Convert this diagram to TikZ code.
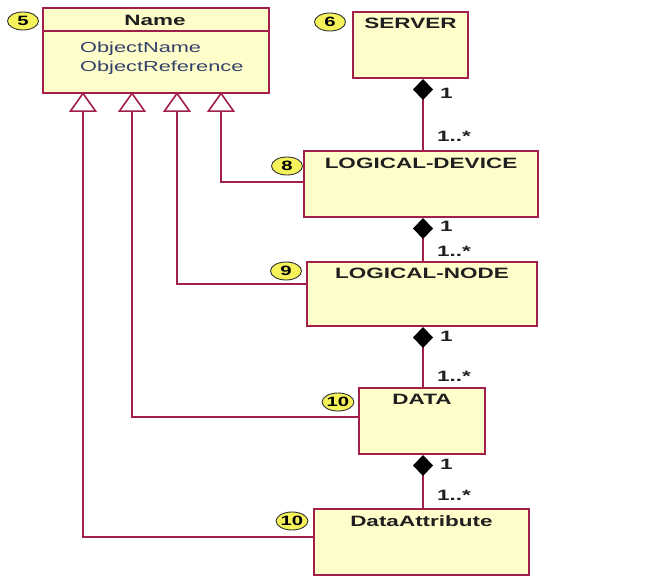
\documentclass[tikz,border=0pt]{standalone}
\usepackage{fontspec}
\setmainfont{Liberation Sans}[FakeStretch=1.5]
\usetikzlibrary{arrows.meta,shapes.geometric}
\definecolor{umlborder}{HTML}{A21E4B}
\definecolor{umlfill}{HTML}{FFFDCA}
\definecolor{badgefill}{HTML}{F6F25A}
\definecolor{attrtext}{HTML}{33426A}
\tikzset{
  cls/.style={draw=umlborder, fill=umlfill, line width=2pt, anchor=north west, inner sep=0pt},
  ttl/.style={font=\fontsize{15}{16}\selectfont\bfseries, text=black!88, inner sep=0pt},
  attr/.style={font=\fontsize{14.5}{16}\selectfont, text=attrtext, anchor=west, inner sep=0pt},
  badge/.style={ellipse, draw=black!80, fill=badgefill, line width=0.9pt, minimum width=31pt,
    minimum height=18pt, inner sep=0pt, font=\fontsize{13.5}{13.5}\selectfont\bfseries},
  mult/.style={font=\fontsize{15}{16}\selectfont\bfseries, text=black!88, anchor=west, inner sep=0pt},
  comp/.style={draw=umlborder, line width=2pt, {Diamond[black,length=21pt,width=20pt]}-},
  inh/.style={draw=umlborder, line width=2pt,
    -{Triangle[length=20pt,width=28pt,fill=white,line width=1.6pt]}},
}
\begin{document}
\begin{tikzpicture}[x=1pt,y=-1pt]
\useasboundingbox (0,0) rectangle (651,577);

% classes
\node[cls, minimum width=226pt, minimum height=85pt] (name) at (42,7) {};
\draw[umlborder, line width=2pt] (name.west |- 0,31) -- (name.east |- 0,31);
\node[ttl] (nametitle) at (155,20) {Name};
\node[attr] (attr1) at (80,49) {ObjectName};
\node[attr] (attr2) at (80,68) {ObjectReference};

\node[cls, minimum width=115pt, minimum height=66pt] (server) at (352,11) {};
\node[cls, minimum width=234pt, minimum height=66pt] (ld) at (303,150) {};
\node[cls, minimum width=230pt, minimum height=64pt] (ln) at (306,261) {};
\node[cls, minimum width=126pt, minimum height=66pt] (data) at (358,387) {};
\node[cls, minimum width=215pt, minimum height=66pt] (da) at (313,508) {};

\node[ttl] (servertitle) at ([yshift=-12pt]server.north) {SERVER};
\node[ttl] (ldtitle) at ([yshift=-13.5pt]ld.north) {LOGICAL-DEVICE};
\node[ttl] (lntitle) at ([yshift=-12.5pt]ln.north) {LOGICAL-NODE};
\node[ttl] (datatitle) at ([yshift=-12.5pt]data.north) {DATA};
\node[ttl] (datitle) at ([yshift=-13pt]da.north) {DataAttribute};

% numbered badges
\node[badge] (b5) at (23,21) {5};
\node[badge] (b6) at (330,22) {6};
\node[badge] (b8) at (287,166) {8};
\node[badge] (b9) at (286,271) {9};
\node[badge] (b10a) at (338,402) {10};
\node[badge] (b10b) at (292,521) {10};

% composition chain
\coordinate (spine) at (423,0);
\draw[comp] (server.south -| spine) -- (ld.north -| spine);
\draw[comp] (ld.south -| spine) -- (ln.north -| spine);
\draw[comp] (ln.south -| spine) -- (data.north -| spine);
\draw[comp] (data.south -| spine) -- (da.north -| spine);

\node[mult] (m1a) at (440,93) {1};
\node[mult] (m1b) at (437,136) {1..*};
\node[mult] (m2a) at (440,226) {1};
\node[mult] (m2b) at (437,251) {1..*};
\node[mult] (m3a) at (440,336) {1};
\node[mult] (m3b) at (437,376) {1..*};
\node[mult] (m4a) at (440,464) {1};
\node[mult] (m4b) at (437,495) {1..*};

% generalisation to Name
\coordinate (ia) at (83,92);
\coordinate (ib) at (132,92);
\coordinate (ic) at (177,92);
\coordinate (id) at (221,92);
\draw[inh] (da.west |- 0,537) -| (ia);
\draw[inh] (data.west |- 0,417) -| (ib);
\draw[inh] (ln.west |- 0,284) -| (ic);
\draw[inh] (ld.west |- 0,182) -| (id);
\end{tikzpicture}
\end{document}
